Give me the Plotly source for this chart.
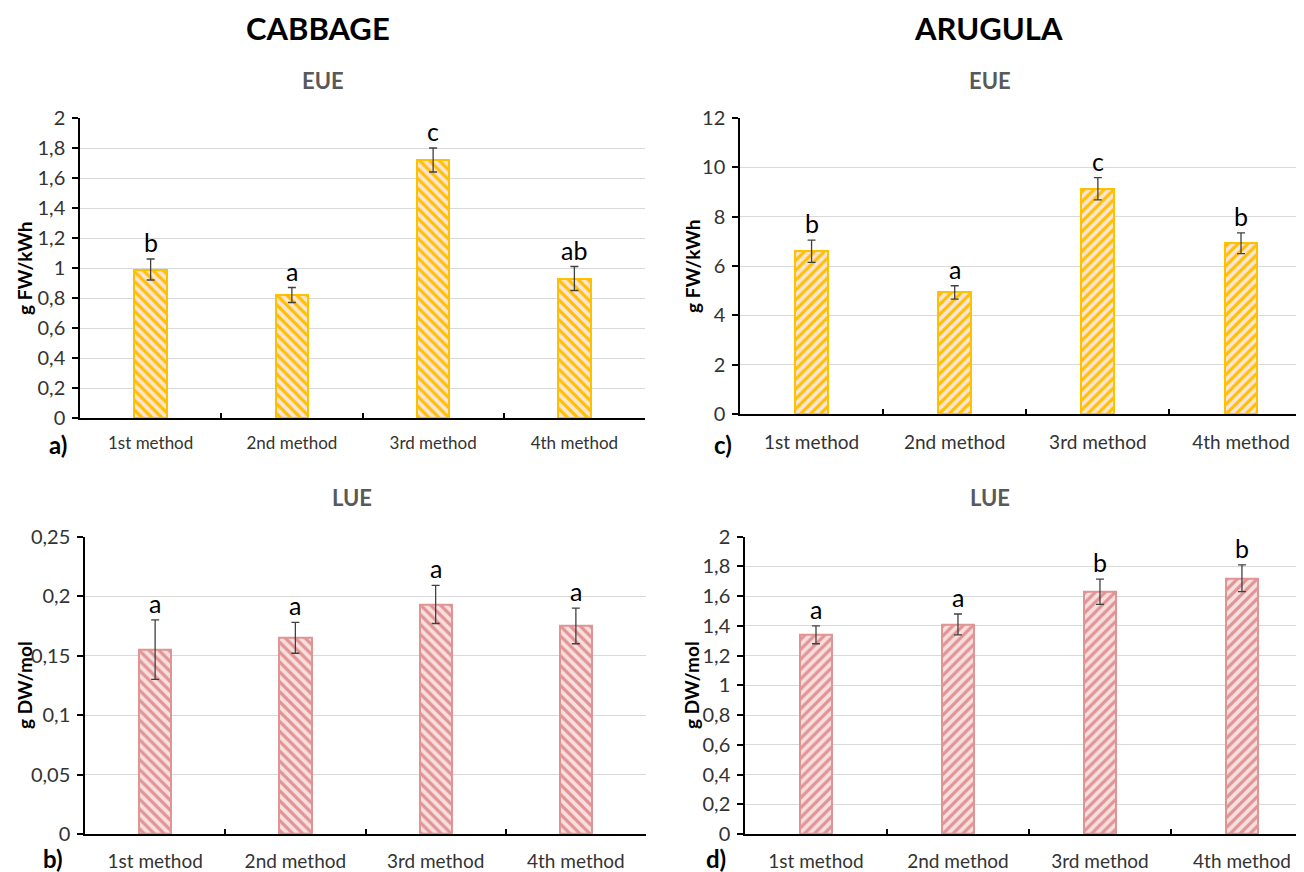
import plotly.graph_objects as go

categories = ["1st method", "2nd method", "3rd method", "4th method"]

cabbage_eue = [0.99, 0.82, 1.72, 0.93]
cabbage_eue_err = [0.07, 0.05, 0.08, 0.08]
cabbage_eue_letters = ["b", "a", "c", "ab"]

arugula_eue = [6.60, 4.93, 9.13, 6.92]
arugula_eue_err = [0.45, 0.27, 0.45, 0.42]
arugula_eue_letters = ["b", "a", "c", "b"]

cabbage_lue = [0.155, 0.165, 0.193, 0.175]
cabbage_lue_err = [0.025, 0.013, 0.016, 0.015]
cabbage_lue_letters = ["a", "a", "a", "a"]

arugula_lue = [1.34, 1.41, 1.63, 1.72]
arugula_lue_err = [0.06, 0.07, 0.085, 0.09]
arugula_lue_letters = ["a", "a", "b", "b"]

W, H = 1304, 872
OFF = 8  # default body margin of the html page
FW, FH = W - OFF, H - OFF
FONT = "Lato"
YELLOW = "#FFC000"
YELLOW_BG = "#FCE4D6"
PINK = "#E09494"
PINK_BG = "#F8DEDE"
TICK_COLOR = "#333333"


def px_x(p):
    return (p - OFF) / FW


def px_y(p):
    return 1 - (p - OFF) / FH


panels = [
    dict(v=cabbage_eue, e=cabbage_eue_err, l=cabbage_eue_letters, c=YELLOW, bg=YELLOW_BG, shape="\\",
         xd=(80, 645), yd=(418, 118), yr=[0, 2], dt=0.2, xr=[-0.5, 3.5], tickfs=17, so=9),
    dict(v=arugula_eue, e=arugula_eue_err, l=arugula_eue_letters, c=YELLOW, bg=YELLOW_BG, shape="/",
         xd=(740, 1304), yd=(414, 118), yr=[0, 12], dt=2, xr=[-0.5, 3.44], tickfs=19, so=10),
    dict(v=cabbage_lue, e=cabbage_lue_err, l=cabbage_lue_letters, c=PINK, bg=PINK_BG, shape="\\",
         xd=(85, 646), yd=(834, 536.7), yr=[0, 0.25], dt=0.05, xr=[-0.5, 3.5], tickfs=19, so=9),
    dict(v=arugula_lue, e=arugula_lue_err, l=arugula_lue_letters, c=PINK, bg=PINK_BG, shape="/",
         xd=(745, 1304), yd=(834, 536.7), yr=[0, 2], dt=0.2, xr=[-0.5, 3.437], tickfs=19, so=9),
]

fig = go.Figure()
layout = dict(
    template="none",
    width=FW, height=FH,
    margin=dict(l=0, r=0, t=0, b=0, pad=0),
    paper_bgcolor="white", plot_bgcolor="white",
    showlegend=False,
    separators=", ",
    font=dict(family=FONT, color=TICK_COLOR),
    bargap=0,
)
annotations = []

for i, p in enumerate(panels):
    n = "" if i == 0 else str(i + 1)
    fig.add_trace(go.Bar(
        x=categories, y=p["v"],
        xaxis="x" + n, yaxis="y" + n,
        width=0.23,
        marker=dict(
            color=p["bg"],
            line=dict(color=p["c"], width=2),
            pattern=dict(shape=p["shape"], fgcolor=p["c"], bgcolor=p["bg"],
                         size=7, solidity=0.45, fillmode="replace"),
        ),
        error_y=dict(type="data", array=p["e"], visible=True,
                     color="#404040", thickness=1.3, width=4),
    ))
    layout["xaxis" + n] = dict(
        domain=[px_x(p["xd"][0]), px_x(p["xd"][1])],
        anchor="y" + n,
        type="category",
        range=p["xr"],
        automargin=False,
        showline=True, linecolor="black", linewidth=1.5,
        ticks="inside", tickson="boundaries", ticklen=5, tickcolor="black", tickwidth=1.5,
        showgrid=False, zeroline=False,
        tickfont=dict(family=FONT, size=p["tickfs"], color=TICK_COLOR),
        ticklabelstandoff=p["so"],
        fixedrange=True,
    )
    layout["yaxis" + n] = dict(
        domain=[px_y(p["yd"][0]), px_y(p["yd"][1])],
        anchor="x" + n,
        range=p["yr"], dtick=p["dt"], tick0=0,
        automargin=False,
        showline=True, linecolor="black", linewidth=1.5,
        ticks="outside", ticklen=6, tickcolor="black", tickwidth=1.5,
        showgrid=True, gridcolor="#D9D9D9", gridwidth=1.3,
        zeroline=False,
        tickfont=dict(family=FONT, size=20, color=TICK_COLOR),
        ticklabelstandoff=3,
        fixedrange=True,
    )
    for cat, v, e, lt in zip(categories, p["v"], p["e"], p["l"]):
        annotations.append(dict(
            x=cat, y=v + e, xref="x" + n, yref="y" + n,
            text=lt, showarrow=False, yanchor="bottom", yshift=0,
            font=dict(family=FONT, size=25, color="black"),
        ))

# Main titles
for txt, x in [("CABBAGE", 318), ("ARUGULA", 988)]:
    annotations.append(dict(x=px_x(x), y=px_y(28), xref="paper", yref="paper", text="<b>%s</b>" % txt,
                            showarrow=False, xanchor="center", yanchor="middle",
                            font=dict(family=FONT, size=31, color="black")))
# Subtitles
for txt, x, y in [("EUE", 323, 80), ("EUE", 990, 80), ("LUE", 352, 497), ("LUE", 990, 497)]:
    annotations.append(dict(x=px_x(x), y=px_y(y), xref="paper", yref="paper", text="<b>%s</b>" % txt,
                            showarrow=False, xanchor="center", yanchor="middle",
                            font=dict(family=FONT, size=22, color="#595959")))
# Y axis titles
for txt, x, y in [("g FW/kWh", 24, 268), ("g FW/kWh", 692, 266), ("g DW/mol", 24, 685), ("g DW/mol", 691, 685)]:
    annotations.append(dict(x=px_x(x), y=px_y(y), xref="paper", yref="paper", text="<b>%s</b>" % txt,
                            showarrow=False, xanchor="center", yanchor="middle", textangle=-90,
                            font=dict(family=FONT, size=19, color="black")))
# Panel letters
for txt, x, y in [("a)", 58, 444), ("c)", 723, 444), ("b)", 53, 858), ("d)", 716, 858)]:
    annotations.append(dict(x=px_x(x), y=px_y(y), xref="paper", yref="paper", text="<b>%s</b>" % txt,
                            showarrow=False, xanchor="center", yanchor="middle",
                            font=dict(family=FONT, size=24, color="black")))

layout["annotations"] = annotations
fig.update_layout(**layout)
fig.write_html("out.html")
